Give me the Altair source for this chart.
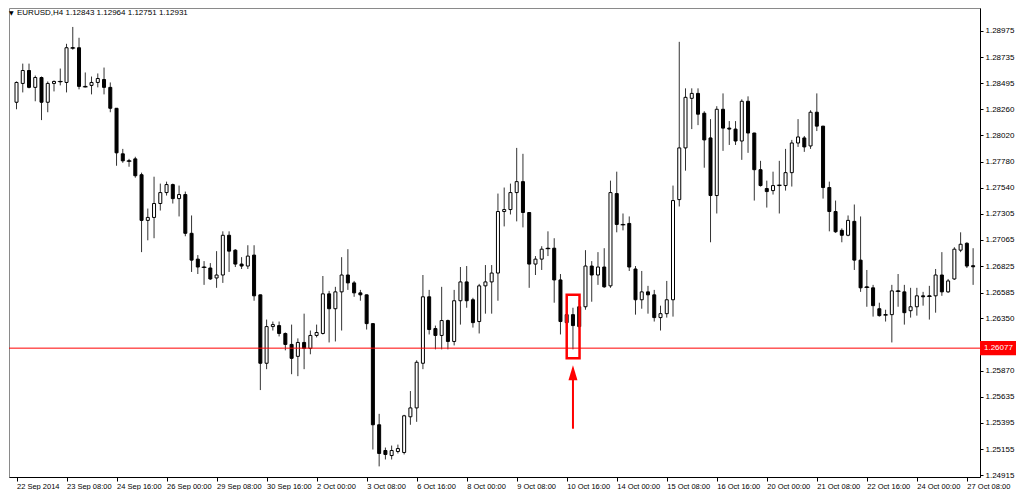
import altair as alt
import pandas as pd

# ---------------- data (EURUSD H4) ----------------
x_labels = ["22 Sep 2014", "23 Sep 08:00", "24 Sep 16:00", "26 Sep 00:00", "29 Sep 08:00",
            "30 Sep 16:00", "2 Oct 00:00", "3 Oct 08:00", "6 Oct 16:00", "8 Oct 00:00",
            "9 Oct 08:00", "10 Oct 16:00", "14 Oct 00:00", "15 Oct 08:00", "16 Oct 16:00",
            "20 Oct 00:00", "21 Oct 08:00", "22 Oct 16:00", "24 Oct 00:00", "27 Oct 08:00"]

y_ticks = [1.28975, 1.28735, 1.28495, 1.28260, 1.28020, 1.27780, 1.27540, 1.27305, 1.27065,
           1.26825, 1.26585, 1.26350, 1.26110, 1.25870, 1.25635, 1.25395, 1.25155, 1.24915]

opens = [
    1.28323, 1.28495, 1.28613, 1.28459, 1.28549, 1.28323, 1.28495, 1.28510, 1.28504, 1.28821,
    1.28821, 1.28468, 1.28477, 1.28504, 1.28531, 1.28459, 1.28268, 1.27852, 1.27788, 1.27806,
    1.27661, 1.27244, 1.27271, 1.27398, 1.27498, 1.27571, 1.27443, 1.27480, 1.27126, 1.26890,
    1.26818, 1.26809, 1.26718, 1.26745, 1.27108, 1.26972, 1.26845, 1.26827, 1.26927, 1.26564,
    1.25939, 1.26274, 1.26283, 1.26211, 1.26111, 1.26002, 1.26129, 1.26075, 1.26193, 1.26211,
    1.26573, 1.26437, 1.26591, 1.26745, 1.26673, 1.26582, 1.26564, 1.26301, 1.25377, 1.25142,
    1.25096, 1.25133, 1.25124, 1.25450, 1.25531, 1.25939, 1.26546, 1.26256, 1.26193, 1.26329,
    1.26138, 1.26510, 1.26682, 1.26519, 1.26320, 1.26646, 1.26682, 1.26763, 1.27325, 1.27343,
    1.27498, 1.27598, 1.27316, 1.26845, 1.26890, 1.26990, 1.26990, 1.26700, 1.26310, 1.26383,
    1.26455, 1.26455, 1.26827, 1.26745, 1.26818, 1.26646, 1.27489, 1.27207, 1.27216, 1.26800,
    1.26519, 1.26591, 1.26564, 1.26356, 1.26392, 1.26519, 1.27434, 1.27906, 1.28359, 1.28404,
    1.28223, 1.27997, 1.27471, 1.28259, 1.28087, 1.28078, 1.27969, 1.28332, 1.28042, 1.27707,
    1.27535, 1.27516, 1.27562, 1.27562, 1.27680, 1.27951, 1.27997, 1.27924, 1.28232, 1.28105,
    1.27544, 1.27325, 1.27153, 1.27108, 1.27235, 1.26881, 1.26637, 1.26628, 1.26437, 1.26383,
    1.26383, 1.26600, 1.26591, 1.26419, 1.26455, 1.26555, 1.26555, 1.26555, 1.26745, 1.26591,
    1.26709, 1.26972, 1.27035, 1.26830]

highs = [
    1.28513, 1.28676, 1.28676, 1.28567, 1.28558, 1.28513, 1.28522, 1.28631, 1.28857, 1.29011,
    1.28912, 1.28595, 1.28558, 1.28586, 1.28640, 1.28504, 1.28270, 1.27897, 1.27806, 1.27825,
    1.27680, 1.27352, 1.27643, 1.27580, 1.27598, 1.27580, 1.27562, 1.27507, 1.27289, 1.26927,
    1.26872, 1.26854, 1.26963, 1.27144, 1.27144, 1.26981, 1.26908, 1.27017, 1.27017, 1.26566,
    1.26338, 1.26320, 1.26320, 1.26220, 1.26292, 1.26166, 1.26392, 1.26238, 1.26292, 1.26736,
    1.26600, 1.26637, 1.26908, 1.26981, 1.26691, 1.26609, 1.26566, 1.26303, 1.25477, 1.25169,
    1.25187, 1.25196, 1.25468, 1.25685, 1.25966, 1.26745, 1.26609, 1.26283, 1.26637, 1.26338,
    1.26609, 1.26818, 1.26827, 1.26537, 1.26664, 1.26836, 1.26836, 1.27489, 1.27544, 1.27580,
    1.27906, 1.27852, 1.27318, 1.26918, 1.27008, 1.27144, 1.27081, 1.26754, 1.26401, 1.26446,
    1.26519, 1.26972, 1.26872, 1.26954, 1.26990, 1.27607, 1.27689, 1.27307, 1.27280, 1.26827,
    1.26782, 1.26646, 1.26609, 1.26465, 1.26691, 1.27562, 1.28875, 1.28450, 1.28450, 1.28450,
    1.28241, 1.28169, 1.28287, 1.28404, 1.28151, 1.28151, 1.28350, 1.28377, 1.28044, 1.27788,
    1.27607, 1.27689, 1.27788, 1.27897, 1.27979, 1.28169, 1.28015, 1.28250, 1.28404, 1.28107,
    1.27598, 1.27425, 1.27171, 1.27289, 1.27389, 1.27280, 1.26791, 1.26655, 1.26492, 1.26428,
    1.26655, 1.26754, 1.26655, 1.26628, 1.26628, 1.26591, 1.26646, 1.26800, 1.26954, 1.26709,
    1.26999, 1.27135, 1.27044, 1.26990]

lows = [
    1.28259, 1.28413, 1.28450, 1.28332, 1.28160, 1.28232, 1.28422, 1.28477, 1.28413, 1.28803,
    1.28441, 1.28459, 1.28395, 1.28459, 1.28395, 1.28232, 1.27743, 1.27770, 1.27734, 1.27634,
    1.26954, 1.27062, 1.27081, 1.27334, 1.27471, 1.27398, 1.27280, 1.27099, 1.26773, 1.26754,
    1.26655, 1.26700, 1.26628, 1.26673, 1.26773, 1.26818, 1.26800, 1.26800, 1.26510, 1.25694,
    1.25885, 1.26238, 1.26184, 1.26057, 1.25839, 1.25821, 1.25885, 1.26021, 1.26175, 1.26202,
    1.26129, 1.26138, 1.26238, 1.26609, 1.26546, 1.26510, 1.26247, 1.25151, 1.24997, 1.25060,
    1.25060, 1.25115, 1.25106, 1.25377, 1.25404, 1.25885, 1.26202, 1.26066, 1.26066, 1.26066,
    1.26102, 1.26292, 1.26446, 1.26265, 1.26211, 1.26392, 1.26392, 1.26510, 1.27189, 1.27298,
    1.27235, 1.27180, 1.26628, 1.26745, 1.26791, 1.26918, 1.26492, 1.26202, 1.26292, 1.26066,
    1.26256, 1.26428, 1.26501, 1.26655, 1.26628, 1.26628, 1.27135, 1.27153, 1.26782, 1.26383,
    1.26437, 1.26392, 1.26320, 1.26238, 1.26356, 1.26365, 1.27371, 1.27698, 1.28078, 1.28114,
    1.27725, 1.27044, 1.27307, 1.27879, 1.27933, 1.27933, 1.27797, 1.27861, 1.27425, 1.27553,
    1.27361, 1.27480, 1.27307, 1.27516, 1.27553, 1.27915, 1.27870, 1.27897, 1.28060, 1.27443,
    1.27144, 1.27130, 1.27044, 1.27099, 1.26791, 1.26591, 1.26455, 1.26365, 1.26365, 1.26320,
    1.26129, 1.26455, 1.26292, 1.26356, 1.26374, 1.26465, 1.26338, 1.26401, 1.26555, 1.26582,
    1.26700, 1.26954, 1.26809, 1.26655]

closes = [
    1.28504, 1.28613, 1.28459, 1.28549, 1.28323, 1.28495, 1.28513, 1.28513, 1.28821, 1.28818,
    1.28468, 1.28464, 1.28504, 1.28540, 1.28459, 1.28268, 1.27861, 1.27788, 1.27785, 1.27652,
    1.27244, 1.27271, 1.27398, 1.27498, 1.27571, 1.27443, 1.27480, 1.27126, 1.26881, 1.26818,
    1.26815, 1.26709, 1.26745, 1.27108, 1.26963, 1.26845, 1.26827, 1.26918, 1.26555, 1.25939,
    1.26274, 1.26292, 1.26211, 1.26111, 1.25984, 1.26129, 1.26075, 1.26193, 1.26220, 1.26573,
    1.26437, 1.26591, 1.26745, 1.26673, 1.26582, 1.26564, 1.26301, 1.25377, 1.25115, 1.25106,
    1.25142, 1.25160, 1.25459, 1.25531, 1.25948, 1.26546, 1.26247, 1.26193, 1.26329, 1.26138,
    1.26510, 1.26682, 1.26510, 1.26310, 1.26646, 1.26682, 1.26763, 1.27325, 1.27343, 1.27498,
    1.27598, 1.27316, 1.26845, 1.26890, 1.26981, 1.26986, 1.26700, 1.26320, 1.26383, 1.26283,
    1.26274, 1.26827, 1.26745, 1.26818, 1.26637, 1.27498, 1.27207, 1.27204, 1.26818, 1.26519,
    1.26591, 1.26564, 1.26356, 1.26392, 1.26519, 1.27425, 1.27906, 1.28368, 1.28404, 1.28214,
    1.27979, 1.27471, 1.28259, 1.28087, 1.28078, 1.27969, 1.28332, 1.28042, 1.27707, 1.27562,
    1.27507, 1.27562, 1.27565, 1.27680, 1.27951, 1.28006, 1.27915, 1.28232, 1.28105, 1.27544,
    1.27325, 1.27140, 1.27108, 1.27244, 1.26881, 1.26628, 1.26632, 1.26465, 1.26374, 1.26380,
    1.26600, 1.26596, 1.26401, 1.26455, 1.26555, 1.26546, 1.26550, 1.26745, 1.26591, 1.26691,
    1.26981, 1.27026, 1.26827, 1.26820]

level_price = 1.26077
level_text = "1.26077"
title_text = "EURUSD,H4  1.12843 1.12964 1.12751 1.12931"

# highlighted candle (box) and arrow, in candle-index / price units
box_x = [88.0, 90.05]
box_y = [1.25984, 1.26564]
arrow_i = 89
arrow_y = [1.25341, 1.25800]
arrow_tip_center = 1.25853

# ---------------- chart ----------------
TOTAL_W, TOTAL_H = 1008, 482
df = pd.DataFrame({"i": list(range(len(opens))), "o": opens, "h": highs,
                   "l": lows, "c": closes})

xs = alt.Scale(domain=[-0.4, 153.3], nice=False, zero=False)
ys = alt.Scale(domain=[1.24900, 1.29184], nice=False, zero=False)

label_expr = "[" + ",".join("'%s'" % s for s in x_labels) + "][round(datum.value/8)]"
FONT = "Liberation Sans"

axis_x = alt.Axis(values=list(range(0, 153, 8)), labelExpr=label_expr, title=None, grid=False,
                  orient="bottom", labelAlign="left", labelPadding=1, tickSize=4,
                  labelFontSize=7.5, labelFont=FONT, labelColor="black", domainColor="black",
                  tickColor="black", labelOverlap=False, labelFlush=False, labelBound=False,
                  domainWidth=1)
axis_y = alt.Axis(values=y_ticks, format=".5f", title=None, grid=False, orient="right",
                  tickSize=3, labelPadding=2, labelFontSize=8, labelFont=FONT,
                  labelColor="black", domainColor="black", tickColor="black",
                  labelOverlap=False, labelFlush=False, labelBound=False)

def X(f):
    return alt.X(f, scale=xs, axis=axis_x)

def Y(f):
    return alt.Y(f, scale=ys, axis=axis_y)

base = alt.Chart(df)

wicks = base.mark_rule(color="#333333", strokeWidth=1).encode(
    x=X("i:Q"), y=Y("l:Q"), y2="h:Q")

bodies = base.mark_bar(size=3, stroke="black", strokeWidth=1).encode(
    x=X("i:Q"), y=Y("o:Q"), y2="c:Q",
    fill=alt.when(alt.datum.c >= alt.datum.o).then(alt.value("white")).otherwise(alt.value("black")))

dojis = base.transform_filter("abs(datum.c - datum.o) < 0.00006").mark_tick(
    orient="horizontal", size=5, thickness=1, color="black").encode(
    x=X("i:Q"), y=Y("c:Q"))

lvl = alt.Chart(pd.DataFrame({"p": [level_price], "t": [level_text]}))
red_line = lvl.mark_rule(color="#ff0000", strokeWidth=1).encode(y=Y("p:Q"))
red_tag = lvl.transform_calculate(lo="datum.p - 0.00066", hi="datum.p + 0.00066").mark_rect(
    color="#ff0000").encode(x=alt.value(alt.expr("width")), x2=alt.value(alt.expr("width + 36")),
                            y=Y("lo:Q"), y2="hi:Q")
red_txt = lvl.mark_text(color="white", fontSize=8, font=FONT, align="left",
                        baseline="middle").encode(x=alt.value(alt.expr("width + 4")), y=Y("p:Q"), text="t:N")

box = alt.Chart(pd.DataFrame({"x1": [box_x[0]], "x2": [box_x[1]],
                              "y1": [box_y[0]], "y2": [box_y[1]]})).mark_rect(
    fillOpacity=0, stroke="#ff0000", strokeWidth=2.5).encode(
    x=X("x1:Q"), x2="x2:Q", y=Y("y1:Q"), y2="y2:Q")

shaft = alt.Chart(pd.DataFrame({"i": [arrow_i], "a": [arrow_y[0]], "b": [arrow_y[1]]})).mark_rule(
    color="#ff0000", strokeWidth=2).encode(x=X("i:Q"), y=Y("a:Q"), y2="b:Q")
head = alt.Chart(pd.DataFrame({"i": [arrow_i], "p": [arrow_tip_center]})).mark_point(
    shape="M0,-1L0.6,1L-0.6,1Z", filled=True, size=225, color="#ff0000", opacity=1).encode(
    x=X("i:Q"), y=Y("p:Q"))

ttl = alt.Chart(pd.DataFrame({"t": [title_text]})).mark_text(
    fontSize=8, font=FONT, align="left", baseline="top", color="black").encode(
    x=alt.value(8), y=alt.value(1), text="t:N")
tri = alt.Chart(pd.DataFrame({"t": ["\u25bc"]})).mark_text(
    fontSize=6, font="DejaVu Sans", align="left", baseline="top", color="black").encode(
    x=alt.value(0), y=alt.value(2), text="t:N")

chart = alt.layer(wicks, bodies, dojis, red_line, box, shaft, head, red_tag, red_txt, ttl, tri).properties(
    width=TOTAL_W, height=TOTAL_H, padding=0, background="white",
    autosize=alt.AutoSizeParams(type="fit", contains="padding")
).configure_view(stroke="#8a8a8a", strokeWidth=1)

chart.save("out.html", embed_options={"renderer": "svg", "actions": False})
